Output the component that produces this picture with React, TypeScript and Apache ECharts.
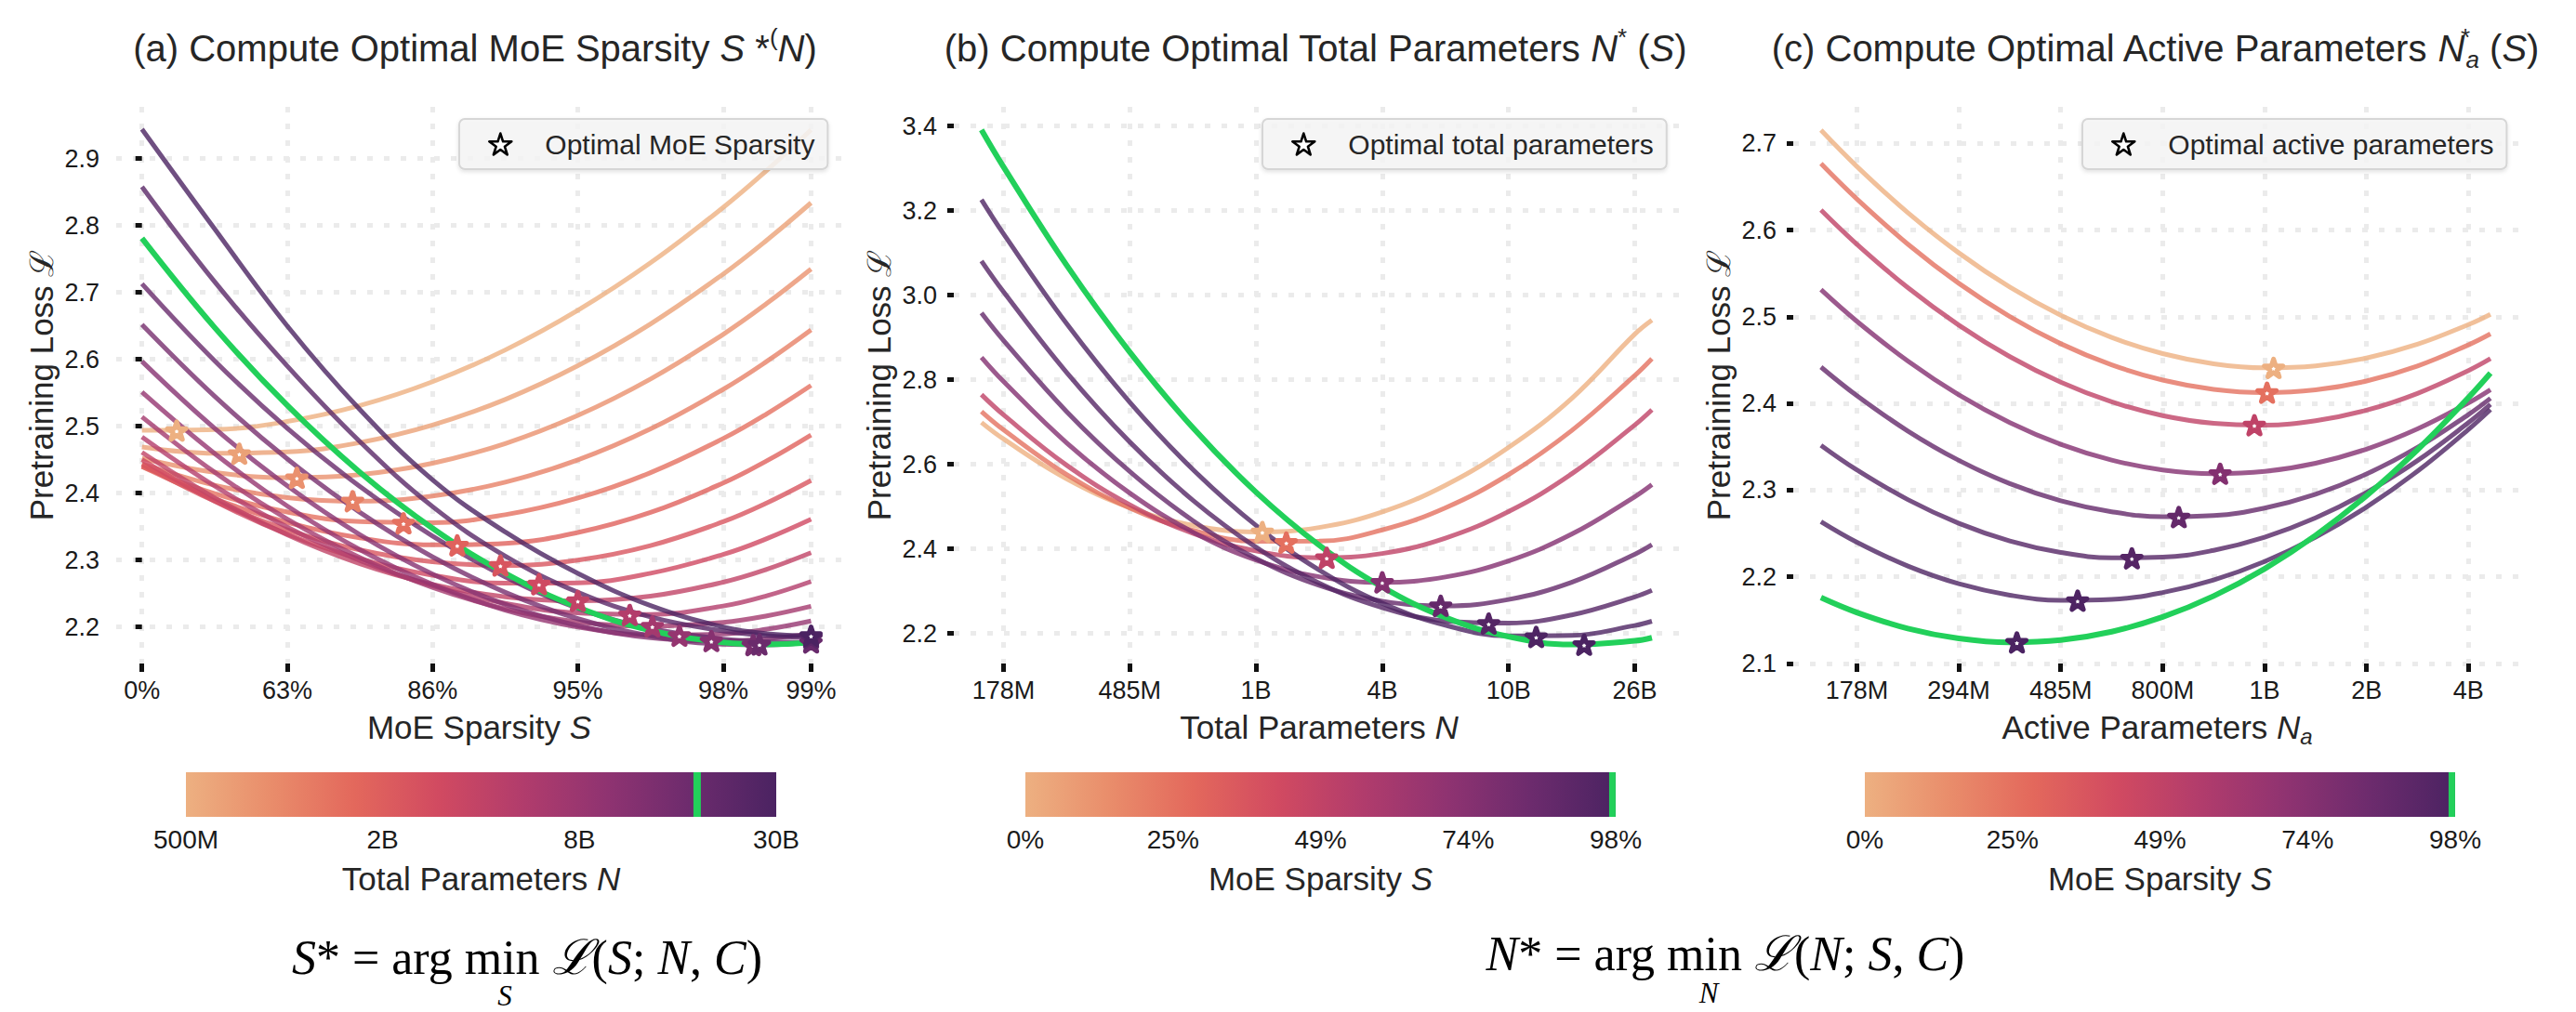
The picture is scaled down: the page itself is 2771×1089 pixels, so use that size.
import React, { useEffect, useRef } from 'react';
import * as echarts from 'echarts';

const FONT = "'Liberation Sans', Arial, Helvetica, sans-serif";
const SERIF = "'Liberation Serif', 'Times New Roman', 'DejaVu Serif', serif";
const TEXT = '#262626';
const TICKC = '#1a1a1a';
const GREEN = '#22D05A';
const STAR = 'path://M50,0 L61.2,34.5 L97.6,34.5 L68.2,55.9 L79.4,90.5 L50,69.1 L20.6,90.5 L31.8,55.9 L2.4,34.5 L38.8,34.5 Z';
const FLARE = ['#EDB081', '#E98D6B', '#E3685C', '#D14A61', '#B13C6C', '#8F3371', '#6C2B6D', '#4B2362'];

// ---------------- Panel (a): loss vs MoE sparsity (axis coordinate u = ln(1/(1-S))) ----------------
const aTickValues = [0, 1, 2, 3, 4, 4.605];
const aTickLabels = ['0%', '63%', '86%', '95%', '98%', '99%'];
const aYTicks = [2.2, 2.3, 2.4, 2.5, 2.6, 2.7, 2.8, 2.9];
const aU = [0, 0.5, 1, 1.5, 2, 2.5, 3, 3.5, 4, 4.3, 4.605];
const aLoss = [
  [2.494, 2.4951, 2.5072, 2.531, 2.5666, 2.614, 2.6733, 2.7443, 2.827, 2.8824, 2.943],
  [2.469, 2.4596, 2.4616, 2.4757, 2.5018, 2.5401, 2.5905, 2.653, 2.7275, 2.7781, 2.834],
  [2.452, 2.4312, 2.4231, 2.4277, 2.4447, 2.4742, 2.5162, 2.5706, 2.6374, 2.6835, 2.735],
  [2.444, 2.412, 2.3934, 2.388, 2.3958, 2.4164, 2.4498, 2.4961, 2.5552, 2.5969, 2.644],
  [2.44, 2.3993, 2.3718, 2.3574, 2.356, 2.3678, 2.3927, 2.4307, 2.4817, 2.5186, 2.561],
  [2.44, 2.3919, 2.3563, 2.3332, 2.3227, 2.325, 2.3412, 2.3712, 2.4152, 2.4483, 2.487],
  [2.443, 2.388, 2.3454, 2.3152, 2.2974, 2.292, 2.2999, 2.3216, 2.3573, 2.3853, 2.419],
  [2.45, 2.3882, 2.3388, 2.3019, 2.2774, 2.2654, 2.266, 2.2803, 2.3084, 2.332, 2.361],
  [2.461, 2.3932, 2.3377, 2.2945, 2.2637, 2.2452, 2.239, 2.246, 2.267, 2.2862, 2.311],
  [2.484, 2.4107, 2.3491, 2.2994, 2.2615, 2.2353, 2.221, 2.2187, 2.2313, 2.2466, 2.268],
  [2.514, 2.4313, 2.3612, 2.3038, 2.2591, 2.227, 2.2077, 2.201, 2.207, 2.2166, 2.231],
  [2.551, 2.4593, 2.3808, 2.3156, 2.2638, 2.2252, 2.2, 2.1881, 2.1894, 2.1967, 2.209],
  [2.597, 2.497, 2.411, 2.338, 2.279, 2.2338, 2.202, 2.1838, 2.1791, 2.1824, 2.19],
  [2.652, 2.5449, 2.4513, 2.3713, 2.3048, 2.2519, 2.2124, 2.1865, 2.1742, 2.1732, 2.1773],
  [2.713, 2.598, 2.497, 2.41, 2.336, 2.275, 2.228, 2.198, 2.182, 2.178, 2.177],
  [2.858, 2.716, 2.59, 2.477, 2.38, 2.306, 2.252, 2.215, 2.194, 2.187, 2.184],
  [2.944, 2.795, 2.65, 2.525, 2.42, 2.342, 2.28, 2.232, 2.2, 2.19, 2.187],
];
const aGreenLoss = [2.781, 2.6477, 2.5312, 2.4312, 2.3475, 2.2803, 2.2294, 2.195, 2.177, 2.174, 2.1771];
// position of each curve's total-parameter count on the colorbar (log4 units from 500M)
const aNPos = [0, 0.1875, 0.375, 0.5625, 0.75, 0.9375, 1.125, 1.3125, 1.5, 1.6875, 1.875, 2.0625, 2.25, 2.4375, 2.625, 2.8125, 3];
const aGreenPos = 2.598;
const aStarU = [0.239, 0.67, 1.066, 1.45, 1.8, 2.17, 2.467, 2.733, 3.0, 3.357, 3.513, 3.699, 3.919, 4.207, 4.605, 4.605, 4.605];
const aStarLoss = [2.4935, 2.459, 2.423, 2.388, 2.355, 2.322, 2.292, 2.264, 2.239, 2.218, 2.201, 2.187, 2.179, 2.173, 2.177, 2.184, 2.187];
const aGreenStar = [4.25, 2.174];

// ---------------- Panel (b): loss vs total parameters (ln N) ----------------
const bTickValues = [19, 20, 21, 22, 23, 24];
const bTickLabels = ['178M', '485M', '1B', '4B', '10B', '26B'];
const bYTicks = [2.2, 2.4, 2.6, 2.8, 3.0, 3.2, 3.4];
const bX = [18.825, 19.0, 19.5, 20.0, 20.5, 21.0, 21.5, 22.0, 22.5, 23.0, 23.5, 24.0, 24.136];
const bLoss = [
  [2.699, 2.6599, 2.5657, 2.4977, 2.4558, 2.4401, 2.4507, 2.4875, 2.5506, 2.64, 2.7558, 2.9078, 2.941],
  [2.725, 2.6817, 2.5759, 2.4967, 2.4441, 2.4181, 2.4185, 2.445, 2.4973, 2.5757, 2.6799, 2.8101, 2.85],
  [2.765, 2.7172, 2.598, 2.5046, 2.437, 2.3952, 2.3792, 2.3892, 2.4256, 2.4884, 2.5775, 2.693, 2.729],
  [2.853, 2.796, 2.6509, 2.5321, 2.4398, 2.3738, 2.3342, 2.321, 2.3337, 2.3716, 2.4349, 2.5235, 2.552],
  [2.958, 2.893, 2.7248, 2.5829, 2.467, 2.3774, 2.3139, 2.2766, 2.2655, 2.2803, 2.321, 2.3874, 2.41],
  [3.081, 3.008, 2.8172, 2.6529, 2.5151, 2.4039, 2.3193, 2.2612, 2.2297, 2.2247, 2.2438, 2.2864, 2.302],
  [3.226, 3.1453, 2.9327, 2.7469, 2.5879, 2.4556, 2.3502, 2.2715, 2.2196, 2.1945, 2.1954, 2.2188, 2.229],
];
const bGreenLoss = [3.391, 3.3034, 3.071, 2.8654, 2.6865, 2.5343, 2.4089, 2.3101, 2.238, 2.1927, 2.174, 2.1827, 2.19];
const bStarX = [21.05, 21.24, 21.56, 22.0, 22.463, 22.843, 23.219, 23.599];
const bStarLoss = [2.44, 2.415, 2.379, 2.321, 2.2654, 2.2235, 2.1919, 2.1735];

// ---------------- Panel (c): loss vs active parameters (ln Na) ----------------
const cTickValues = [19, 19.5, 20, 20.5, 21, 21.5, 22];
const cTickLabels = ['178M', '294M', '485M', '800M', '1B', '2B', '4B'];
const cYTicks = [2.1, 2.2, 2.3, 2.4, 2.5, 2.6, 2.7];
const cX = [18.824, 19.0, 19.25, 19.5, 19.75, 20.0, 20.25, 20.5, 20.75, 21.0, 21.25, 21.5, 21.75, 22.0, 22.108];
const cLoss = [
  [2.7154, 2.6736, 2.6202, 2.5738, 2.5343, 2.5018, 2.4762, 2.4576, 2.4459, 2.4412, 2.4434, 2.4525, 2.4684, 2.4911, 2.503],
  [2.6768, 2.636, 2.5839, 2.5387, 2.5004, 2.469, 2.4446, 2.427, 2.4163, 2.4125, 2.4157, 2.426, 2.4433, 2.4677, 2.4804],
  [2.6232, 2.5838, 2.5337, 2.4905, 2.4541, 2.4246, 2.4019, 2.3861, 2.3772, 2.3751, 2.3802, 2.3923, 2.4117, 2.4381, 2.4518],
  [2.5314, 2.4949, 2.449, 2.41, 2.378, 2.3529, 2.3347, 2.3234, 2.3191, 2.3216, 2.3311, 2.3474, 2.3707, 2.4008, 2.416],
  [2.4421, 2.4091, 2.3683, 2.3344, 2.3076, 2.2878, 2.2751, 2.2693, 2.2707, 2.2794, 2.2954, 2.3187, 2.3494, 2.3873, 2.406],
  [2.3518, 2.3234, 2.2891, 2.2618, 2.2415, 2.2282, 2.222, 2.2227, 2.2306, 2.2457, 2.268, 2.2974, 2.3341, 2.3779, 2.399],
  [2.2636, 2.2399, 2.2124, 2.192, 2.1789, 2.1729, 2.174, 2.1819, 2.1964, 2.2177, 2.2457, 2.2805, 2.3219, 2.3701, 2.393],
];
const cGreenLoss = [2.1761, 2.1589, 2.1404, 2.1289, 2.1244, 2.127, 2.1367, 2.1537, 2.1779, 2.2093, 2.2479, 2.2937, 2.3466, 2.4068, 2.435];
const cStarX = [21.044, 21.012, 20.95, 20.782, 20.579, 20.349, 20.083, 19.785];
const cStarLoss = [2.4411, 2.4125, 2.375, 2.319, 2.269, 2.2214, 2.1725, 2.1243];

// sparsity of each curve in (b) and (c)
const sparsity = [0, 0.25, 0.5, 0.75, 0.875, 0.9375, 0.96875];

// ---------------- Colorbars ----------------
const cbNTicks = [0, 1, 2, 3];
const cbNLabels = ['500M', '2B', '8B', '30B'];
const cbNRange = [0, 3];
const cbSTicks = [0, 0.245, 0.49, 0.735, 0.98];
const cbSLabels = ['0%', '25%', '49%', '74%', '98%'];
const cbSRange = [0, 0.98];
const cbSGreen = 0.9745;

function hex(c: string) {
  return [parseInt(c.slice(1, 3), 16), parseInt(c.slice(3, 5), 16), parseInt(c.slice(5, 7), 16)];
}
function flare(t: number) {
  const tt = Math.max(0, Math.min(1, t));
  const n = FLARE.length - 1;
  const x = tt * n;
  const i = Math.min(n - 1, Math.floor(x));
  const f = x - i;
  const a = hex(FLARE[i]);
  const b = hex(FLARE[i + 1]);
  const m = a.map((v, j) => Math.round(v + (b[j] - v) * f));
  return `rgb(${m[0]},${m[1]},${m[2]})`;
}
const lookup = (vals: number[], labels: string[]) => (v: number) => {
  const i = vals.findIndex((x) => Math.abs(x - v) < 1e-6);
  return i >= 0 ? labels[i] : '';
};

const gridLine = { show: true, lineStyle: { color: '#EBEBEB', width: 5, type: [6, 12] } };
const nameRich = {
  it: { fontStyle: 'italic', fontSize: 35, fontFamily: FONT, color: TEXT, lineHeight: 44 },
  sub: { fontStyle: 'italic', fontSize: 24, fontFamily: FONT, color: TEXT, lineHeight: 24, verticalAlign: 'bottom' },
};

function xMain(gi: number, min: number, max: number, ticks: number[], labels: string[], name: string) {
  return {
    type: 'value', gridIndex: gi, min, max,
    axisLine: { show: false },
    axisTick: { show: true, length: 9, lineStyle: { color: '#111', width: 5 }, customValues: ticks },
    axisLabel: { fontSize: 27, color: TICKC, fontFamily: FONT, margin: 15, customValues: ticks, formatter: lookup(ticks, labels) },
    splitLine: gridLine,
    name, nameLocation: 'middle', nameGap: 44,
    nameTextStyle: { fontSize: 35, color: TEXT, fontFamily: FONT, lineHeight: 44, rich: nameRich },
  };
}
function yMain(gi: number, min: number, max: number, ticks: number[]) {
  return {
    type: 'value', gridIndex: gi, min, max,
    axisLine: { show: false },
    axisTick: { show: true, length: 7, lineStyle: { color: '#111', width: 5 }, customValues: ticks },
    axisLabel: { fontSize: 27, color: TICKC, fontFamily: FONT, margin: 18, customValues: ticks, formatter: (v: number) => v.toFixed(1) },
    splitLine: gridLine,
    name: 'Pretraining Loss ℒ', nameLocation: 'middle', nameGap: 61,
    nameTextStyle: { fontSize: 35, color: TEXT, fontFamily: FONT, lineHeight: 40 },
  };
}
function xBar(gi: number, range: number[], ticks: number[], labels: string[], name: string) {
  return {
    type: 'value', gridIndex: gi, min: range[0], max: range[1],
    axisLine: { show: false }, axisTick: { show: false, customValues: ticks }, splitLine: { show: false },
    axisLabel: { fontSize: 28, color: TICKC, fontFamily: FONT, margin: 10, customValues: ticks, formatter: lookup(ticks, labels) },
    name, nameLocation: 'middle', nameGap: 44,
    nameTextStyle: { fontSize: 35, color: TEXT, fontFamily: FONT, lineHeight: 44, rich: nameRich },
  };
}
function yBar(gi: number) {
  return { type: 'value', gridIndex: gi, min: 0, max: 1, show: false };
}
function line(xs: number[], ys: number[], color: string, gi: number, width: number, opacity: number, z: number) {
  return {
    type: 'line', xAxisIndex: gi, yAxisIndex: gi, data: xs.map((x, i) => [x, ys[i]]),
    smooth: 0.4, showSymbol: false, symbol: 'none', silent: true, z,
    lineStyle: { color, width, opacity }, itemStyle: { color }, emphasis: { disabled: true },
  };
}
function stars(name: string, gi: number, pts: { x: number; y: number; c: string }[]) {
  return {
    type: 'scatter', name, xAxisIndex: gi, yAxisIndex: gi, symbol: STAR, symbolSize: 20, symbolKeepAspect: true, z: 6,
    silent: true, emphasis: { disabled: true },
    itemStyle: { color: '#ffffff', borderColor: '#000', borderWidth: 5, borderJoin: 'round', opacity: 1 },
    data: pts.map((p) => ({ value: [p.x, p.y], itemStyle: { color: '#ffffff', borderColor: p.c } })),
  };
}
function colorbar(gi: number, range: number[], green: number, gw: number) {
  const stops = FLARE.map((c, i) => ({ offset: i / (FLARE.length - 1), color: c }));
  return {
    type: 'custom', xAxisIndex: gi, yAxisIndex: gi, silent: true, z: 2,
    encode: { x: [0, 1, 2] },
    data: [[range[0], range[1], green]],
    renderItem: (_p: any, api: any) => {
      const tl = api.coord([api.value(0), 1]);
      const br = api.coord([api.value(1), 0]);
      const g = api.coord([api.value(2), 0]);
      return {
        type: 'group',
        children: [
          { type: 'rect', shape: { x: tl[0], y: tl[1], width: br[0] - tl[0], height: br[1] - tl[1] }, style: { fill: new echarts.graphic.LinearGradient(0, 0, 1, 0, stops) } },
          { type: 'rect', shape: { x: g[0] - gw / 2, y: tl[1], width: gw, height: br[1] - tl[1] }, style: { fill: GREEN } },
        ],
      };
    },
  };
}
function legend(name: string, left: number) {
  return {
    show: true, left, top: 128, orient: 'horizontal', selectedMode: false,
    data: [{ name, icon: STAR, itemStyle: { color: '#ffffff', borderColor: '#000', borderWidth: 2.6 } }],
    itemWidth: 24, itemHeight: 23, symbolKeepAspect: true,
    padding: [12, 14, 12, 31],
    formatter: (n: string) => `{t|${n}}`,
    backgroundColor: 'rgba(246,246,246,0.85)', borderColor: '#D6D6D6', borderWidth: 2, borderRadius: 6,
    shadowBlur: 4, shadowColor: 'rgba(0,0,0,0.12)', shadowOffsetY: 2,
    textStyle: {
      fontSize: 30, color: TEXT, fontFamily: FONT,
      rich: { t: { fontSize: 30, color: TEXT, fontFamily: FONT, padding: [0, 0, 0, 31] } },
    },
  };
}

function buildOption() {
  const series: any[] = [];
  aLoss.forEach((ys, k) => series.push(line(aU, ys, flare(aNPos[k] / 3), 0, 5, 0.8, 2)));
  series.push(line(aU, aGreenLoss, GREEN, 0, 6, 1, 3));
  const aPts = aStarU.map((u, k) => ({ x: u, y: aStarLoss[k], c: flare(aNPos[k] / 3) }));
  aPts.push({ x: aGreenStar[0], y: aGreenStar[1], c: flare(aGreenPos / 3) });
  series.push(stars('Optimal MoE Sparsity', 0, aPts));

  bLoss.forEach((ys, k) => series.push(line(bX, ys, flare(sparsity[k] / 0.98), 1, 5, 0.8, 2)));
  series.push(line(bX, bGreenLoss, GREEN, 1, 6, 1, 3));
  series.push(stars('Optimal total parameters', 1, bStarX.map((x, k) => ({ x, y: bStarLoss[k], c: flare(k < sparsity.length ? sparsity[k] / 0.98 : 1) }))));

  cLoss.forEach((ys, k) => series.push(line(cX, ys, flare(sparsity[k] / 0.98), 2, 5, 0.8, 2)));
  series.push(line(cX, cGreenLoss, GREEN, 2, 6, 1, 3));
  series.push(stars('Optimal active parameters', 2, cStarX.map((x, k) => ({ x, y: cStarLoss[k], c: flare(k < sparsity.length ? sparsity[k] / 0.98 : 1) }))));

  series.push(colorbar(3, cbNRange, aGreenPos, 8));
  series.push(colorbar(4, cbSRange, cbSGreen, 7));
  series.push(colorbar(5, cbSRange, cbSGreen, 7));

  const titleRich = {
    it: { fontStyle: 'italic', fontSize: 40, fontFamily: FONT, fill: TEXT, lineHeight: 50 },
    sup: { fontSize: 26, fontFamily: FONT, fill: TEXT, lineHeight: 26, verticalAlign: 'top' },
    supz: { fontSize: 26, fontFamily: FONT, fill: TEXT, lineHeight: 26, verticalAlign: 'top', width: 1 },
    sub: { fontSize: 26, fontStyle: 'italic', fontFamily: FONT, fill: TEXT, lineHeight: 26, verticalAlign: 'bottom' },
  };
  const titleStyle = (text: string) => ({
    text, fontSize: 40, fontFamily: FONT, fill: TEXT, lineHeight: 50, align: 'center', verticalAlign: 'middle', rich: titleRich,
  });
  const fRich = { it: { fontStyle: 'italic', fontSize: 52, fontFamily: SERIF, fill: '#000', lineHeight: 46 } };
  const fStyle = (text: string) => ({ text, fontSize: 52, lineHeight: 46, fontFamily: SERIF, fill: '#000', align: 'center', verticalAlign: 'middle', rich: fRich });
  const subStyle = (text: string) => ({ text, fontSize: 31, lineHeight: 30, fontStyle: 'italic', fontFamily: SERIF, fill: '#000', align: 'center', verticalAlign: 'middle' });

  return {
    animation: false,
    backgroundColor: '#ffffff',
    grid: [
      { left: 125, top: 115, width: 781, height: 599 },
      { left: 1026, top: 115, width: 786, height: 599 },
      { left: 1929, top: 115, width: 783, height: 599 },
      { left: 200, top: 831, width: 635, height: 48 },
      { left: 1103, top: 831, width: 635, height: 48 },
      { left: 2006, top: 831, width: 635, height: 48 },
    ],
    xAxis: [
      xMain(0, -0.1772, 4.8196, aTickValues, aTickLabels, 'MoE Sparsity {it|S}'),
      xMain(1, 18.606, 24.394, bTickValues, bTickLabels, 'Total Parameters {it|N}'),
      xMain(2, 18.688, 22.2585, cTickValues, cTickLabels, 'Active Parameters {it|N}{sub|a}'),
      xBar(3, cbNRange, cbNTicks, cbNLabels, 'Total Parameters {it|N}'),
      xBar(4, cbSRange, cbSTicks, cbSLabels, 'MoE Sparsity {it|S}'),
      xBar(5, cbSRange, cbSTicks, cbSLabels, 'MoE Sparsity {it|S}'),
    ],
    yAxis: [
      yMain(0, 2.1454, 2.9774, aYTicks),
      yMain(1, 2.129, 3.4455, bYTicks),
      yMain(2, 2.1, 2.7423, cYTicks),
      yBar(3), yBar(4), yBar(5),
    ],
    legend: [
      legend('Optimal MoE Sparsity', 494),
      legend('Optimal total parameters', 1358),
      legend('Optimal active parameters', 2240),
    ],
    graphic: [
      { type: 'text', x: 511, y: 52, style: titleStyle('(a) Compute Optimal MoE Sparsity {it|S} *{sup|(}{it|N})') },
      { type: 'text', x: 1415, y: 52, style: titleStyle('(b) Compute Optimal Total Parameters {it|N}{sup|*} ({it|S})') },
      { type: 'text', x: 2318, y: 52, style: titleStyle('(c) Compute Optimal Active Parameters {it|N}{supz|*}{sub|a} ({it|S})') },
      { type: 'text', x: 567, y: 1030, style: fStyle('{it|S}* = arg min {it|ℒ}({it|S}; {it|N}, {it|C})') },
      { type: 'text', x: 543, y: 1071, style: subStyle('S') },
      { type: 'text', x: 1856, y: 1026, style: fStyle('{it|N}* = arg min {it|ℒ}({it|N}; {it|S}, {it|C})') },
      { type: 'text', x: 1838, y: 1068, style: subStyle('N') },
    ],
    series,
  };
}

export default function App() {
  const ref = useRef<HTMLDivElement>(null);
  useEffect(() => {
    if (!ref.current) return;
    const chart = echarts.init(ref.current, undefined, { renderer: 'svg' });
    chart.setOption(buildOption() as any);
    return () => chart.dispose();
  }, []);
  return <div ref={ref} style={{ position: 'fixed', left: 0, top: 0, width: 2771, height: 1089, background: '#fff' }} />;
}
